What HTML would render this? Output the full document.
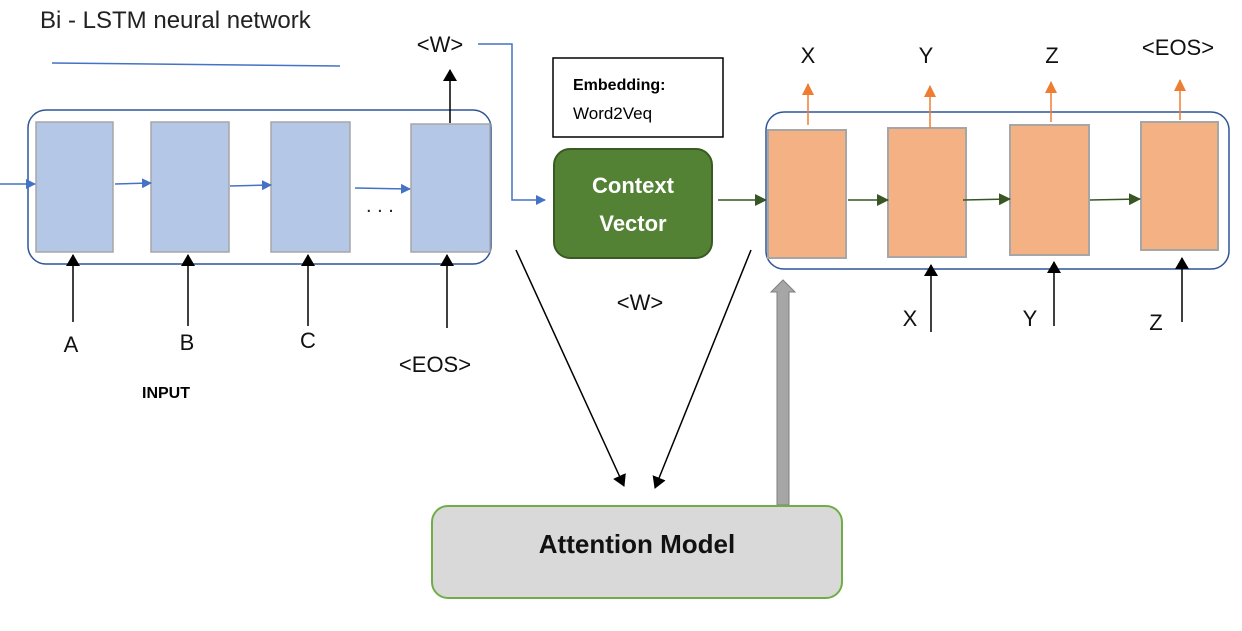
<!DOCTYPE html>
<html><head><style>
body{margin:0;background:#fff;}
svg text{font-family:"Liberation Sans",sans-serif;}
</style></head><body>
<svg width="1242" height="626" viewBox="0 0 1242 626" xmlns="http://www.w3.org/2000/svg">
<defs>
<marker id="bl" markerWidth="10" markerHeight="10" refX="9" refY="5" orient="auto" markerUnits="userSpaceOnUse"><path d="M0,0 L10,5 L0,10z" fill="#4472c4"/></marker>
<marker id="bk" markerWidth="12" markerHeight="14" refX="11" refY="7" orient="auto" markerUnits="userSpaceOnUse"><path d="M0,0 L12,7 L0,14z" fill="#000"/></marker>
<marker id="gr" markerWidth="12" markerHeight="12" refX="11" refY="6" orient="auto" markerUnits="userSpaceOnUse"><path d="M0,0 L12,6 L0,12z" fill="#375623"/></marker>
<marker id="or" markerWidth="12" markerHeight="12" refX="11" refY="6" orient="auto" markerUnits="userSpaceOnUse"><path d="M0,0 L12,6 L0,12z" fill="#ed7d31"/></marker>
</defs>
<text x="40" y="28" font-size="24" fill="#222">Bi - LSTM neural network</text>
<line x1="52" y1="63" x2="340" y2="66" stroke="#4472c4" stroke-width="1.5"/>
<!-- left container -->
<rect x="28" y="110" width="463" height="154" rx="18" fill="none" stroke="#2f5597" stroke-width="1.5"/>
<g fill="#b4c7e7" stroke="#a6a6a6" stroke-width="1.5">
<rect x="36" y="122" width="77" height="130"/>
<rect x="151" y="122" width="78" height="130"/>
<rect x="271" y="122" width="79" height="130"/>
<rect x="411" y="124" width="79" height="128"/>
</g>
<g stroke="#4472c4" stroke-width="1.5" marker-end="url(#bl)">
<line x1="0" y1="184" x2="35" y2="184"/>
<line x1="115" y1="184" x2="151" y2="183"/>
<line x1="230" y1="186" x2="271" y2="185"/>
<line x1="355" y1="188" x2="410" y2="189"/>
</g>
<text x="366" y="212" font-size="20" fill="#222">. . .</text>
<g stroke="#000" stroke-width="1.5" marker-end="url(#bk)">
<line x1="73" y1="322" x2="73" y2="255"/>
<line x1="188" y1="326" x2="188" y2="255"/>
<line x1="308" y1="326" x2="308" y2="255"/>
<line x1="447" y1="328" x2="447" y2="255"/>
<line x1="450" y1="123" x2="450" y2="70"/>
</g>
<g font-size="22" fill="#111" text-anchor="middle">
<text x="71" y="352">A</text><text x="187" y="350">B</text><text x="308" y="348">C</text>
<text x="435" y="372">&lt;EOS&gt;</text>
<text x="440" y="52">&lt;W&gt;</text>
</g>
<text x="166" y="398" font-size="16" font-weight="bold" text-anchor="middle">INPUT</text>
<polyline points="478,44 512,44 512,200 545,200" fill="none" stroke="#4472c4" stroke-width="1.5" marker-end="url(#bl)"/>
<!-- embedding -->
<rect x="553" y="58" width="170" height="79" fill="#fff" stroke="#000" stroke-width="1.5"/>
<text x="573" y="90" font-size="16" font-weight="bold">Embedding:</text>
<text x="573" y="119" font-size="17">Word2Veq</text>
<rect x="554" y="149" width="158" height="109" rx="16" fill="#548235" stroke="#3a5a24" stroke-width="2"/>
<text x="633" y="193" font-size="22" font-weight="bold" fill="#fff" text-anchor="middle">Context</text>
<text x="633" y="231" font-size="22" font-weight="bold" fill="#fff" text-anchor="middle">Vector</text>
<text x="640" y="310" font-size="22" fill="#111" text-anchor="middle">&lt;W&gt;</text>
<!-- right container -->
<rect x="766" y="112" width="463" height="157" rx="18" fill="none" stroke="#2f5597" stroke-width="1.5"/>
<g fill="#f4b183" stroke="#a6a6a6" stroke-width="2">
<rect x="768" y="130" width="78" height="128"/>
<rect x="888" y="128" width="78" height="129"/>
<rect x="1010" y="125" width="79" height="130"/>
<rect x="1141" y="122" width="77" height="128"/>
</g>
<g stroke="#375623" stroke-width="1.5" marker-end="url(#gr)">
<line x1="718" y1="200" x2="766" y2="200"/>
<line x1="848" y1="200" x2="888" y2="200"/>
<line x1="963" y1="200" x2="1010" y2="199"/>
<line x1="1090" y1="200" x2="1140" y2="199"/>
</g>
<g stroke="#ed7d31" stroke-width="1.5" marker-end="url(#or)">
<line x1="808" y1="125" x2="808" y2="84"/>
<line x1="930" y1="128" x2="930" y2="86"/>
<line x1="1051" y1="122" x2="1051" y2="82"/>
<line x1="1180" y1="120" x2="1180" y2="80"/>
</g>
<g font-size="22" fill="#111" text-anchor="middle">
<text x="808" y="63">X</text><text x="926" y="63">Y</text><text x="1052" y="63">Z</text>
<text x="1178" y="55">&lt;EOS&gt;</text>
<text x="910" y="326">X</text><text x="1030" y="326">Y</text><text x="1156" y="330">Z</text>
</g>
<g stroke="#000" stroke-width="1.5" marker-end="url(#bk)">
<line x1="931" y1="332" x2="931" y2="265"/>
<line x1="1054" y1="326" x2="1054" y2="262"/>
<line x1="1182" y1="322" x2="1182" y2="258"/>
<line x1="516" y1="250" x2="624" y2="486"/>
<line x1="751" y1="250" x2="655" y2="488"/>
</g>
<!-- gray arrow -->
<path d="M777,505 L777,292 L771,292 L783,280 L795,292 L789,292 L789,505 Z" fill="#a6a6a6" stroke="#7f7f7f" stroke-width="1"/>
<rect x="432" y="506" width="410" height="92" rx="16" fill="#d9d9d9" stroke="#70ad47" stroke-width="2"/>
<text x="637" y="553" font-size="26" font-weight="bold" fill="#111" text-anchor="middle">Attention Model</text>
</svg>
</body></html>
